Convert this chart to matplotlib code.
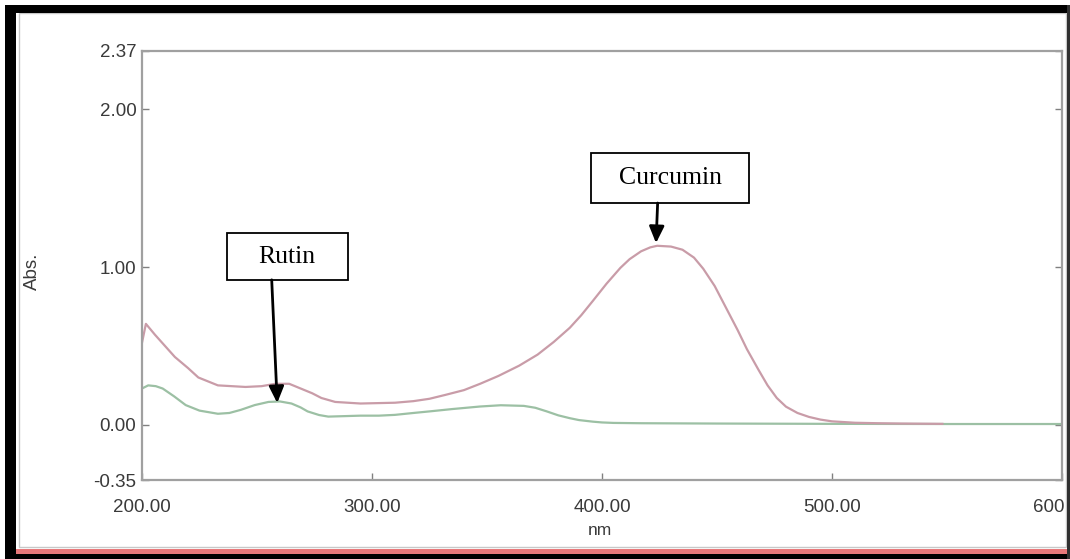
import numpy as np
import matplotlib.pyplot as plt
from matplotlib.patches import Rectangle

# wavelength (nm) / absorbance
curcumin_nm = [200, 201.7, 205.7, 210, 214.3, 220, 224.5, 233, 245, 252, 258, 264,
               269, 274, 278, 284, 295, 310, 318, 325, 332, 340, 347, 355, 364,
               372, 379, 386, 391, 396, 402, 408, 412, 417, 421, 424, 430,
               435, 440, 444, 449, 454, 459, 463, 468, 472, 476, 480, 485, 490,
               495, 500, 510, 520, 530, 548]
curcumin_abs = [0.52, 0.64, 0.57, 0.50, 0.43, 0.36, 0.30, 0.25, 0.24, 0.245, 0.26,
                0.26, 0.23, 0.20, 0.17, 0.145, 0.135, 0.14, 0.15, 0.165, 0.19, 0.22,
                0.26, 0.31, 0.375, 0.445, 0.525, 0.615, 0.695, 0.785, 0.895, 0.995,
                1.05, 1.10, 1.125, 1.135, 1.13, 1.11, 1.06, 0.99, 0.88, 0.74, 0.60,
                0.48, 0.35, 0.25, 0.17, 0.115, 0.075, 0.05, 0.033, 0.022, 0.013,
                0.01, 0.008, 0.006]

rutin_nm = [200, 202.7, 206, 209, 214, 219, 225, 233, 238, 243, 249, 255, 260, 265,
            269, 272, 277, 281, 288, 295, 303, 310, 318, 325, 335, 347, 356, 366,
            371, 376, 381, 386, 390, 396, 400, 405, 417, 450, 500, 550, 600]
rutin_abs = [0.23, 0.25, 0.245, 0.23, 0.18, 0.125, 0.09, 0.07, 0.075, 0.095, 0.125,
             0.145, 0.148, 0.135, 0.11, 0.085, 0.062, 0.052, 0.055, 0.058, 0.058, 0.063,
             0.075, 0.085, 0.10, 0.116, 0.124, 0.12, 0.108, 0.085, 0.06, 0.042, 0.03,
             0.02, 0.015, 0.012, 0.01, 0.008, 0.006, 0.005, 0.005]

xticks = [200, 300, 400, 500, 600]
yticks = [-0.35, 0.0, 1.0, 2.0, 2.37]

fig = plt.figure(figsize=(10.7, 5.59), dpi=100)
ax = fig.add_axes([0.1327, 0.1413, 0.8598, 0.7675])

ax.plot(rutin_nm, rutin_abs, color='#9cc0a4', lw=1.6, solid_joinstyle='round')
ax.plot(curcumin_nm, curcumin_abs, color='#c99ca8', lw=1.6, solid_joinstyle='round')

ax.set_xlim(200, 600)
ax.set_ylim(-0.35, 2.37)
ax.set_xticks(xticks)
ax.set_xticklabels(['%.2f' % v for v in xticks])
ax.set_yticks(yticks)
ax.set_yticklabels(['%.2f' % v for v in yticks])

for t in ax.get_xticklabels() + ax.get_yticklabels():
    t.set_fontfamily('Liberation Sans')
    t.set_fontsize(13.5)
    t.set_color('#3a3a3a')
ax.tick_params(axis='x', direction='in', length=5, width=1, color='#808080', pad=14)
ax.tick_params(axis='y', direction='in', length=5, width=1, color='#808080', pad=4,
               right=True)
for s in ax.spines.values():
    s.set_color('#a0a0a0')
    s.set_linewidth(1.6)

ax.set_xlabel('nm', fontdict=dict(family='Liberation Sans', size=12.5, color='#3a3a3a'))
ax.xaxis.set_label_coords(0.498, -0.100)
ax.set_ylabel('Abs.', fontdict=dict(family='Liberation Sans', size=13.5, color='#3a3a3a'))
ax.yaxis.set_label_coords(-0.110, 0.487)

# annotation boxes and arrows
serif = dict(family='Liberation Serif', size=18.5, color='black')
ax.add_patch(Rectangle((236.8, 0.919), 52.6, 0.297, fill=False, ec='black', lw=1.3,
                       zorder=5, clip_on=False))
ax.text(263.0, 1.067, 'Rutin', ha='center', va='center', fontdict=serif, zorder=6)
ax.annotate('', xy=(258.8, 0.138), xytext=(256.4, 0.919),
            arrowprops=dict(arrowstyle='-|>,head_width=0.45,head_length=1.0',
                            color='black', lw=2, shrinkA=0, shrinkB=0))

ax.add_patch(Rectangle((395.1, 1.406), 68.8, 0.317, fill=False, ec='black', lw=1.3,
                       zorder=5, clip_on=False))
ax.text(429.6, 1.564, 'Curcumin', ha='center', va='center', fontdict=serif, zorder=6)
ax.annotate('', xy=(423.5, 1.152), xytext=(424.2, 1.406),
            arrowprops=dict(arrowstyle='-|>,head_width=0.45,head_length=1.0',
                            color='black', lw=2, shrinkA=0, shrinkB=0))

# picture frame
W, H = 1070.0, 559.0
def frame(x0, y0, x1, y1, **kw):
    fig.add_artist(Rectangle((x0 / W, 1 - y1 / H), (x1 - x0) / W, (y1 - y0) / H,
                             transform=fig.transFigure, **kw))

frame(19, 13, 1066, 547, fill=False, ec='#c8c8c8', lw=1)
frame(5, 5, 1070, 12.5, color='black', lw=0)
frame(5, 5, 16, 559, color='black', lw=0)
frame(16, 548.5, 1070, 553.5, color='#e8787a', lw=0)
frame(5, 553.5, 1070, 559, color='black', lw=0)
frame(1067, 5, 1070, 559, color='#303030', lw=0)

fig.savefig('out.png', dpi=100)
